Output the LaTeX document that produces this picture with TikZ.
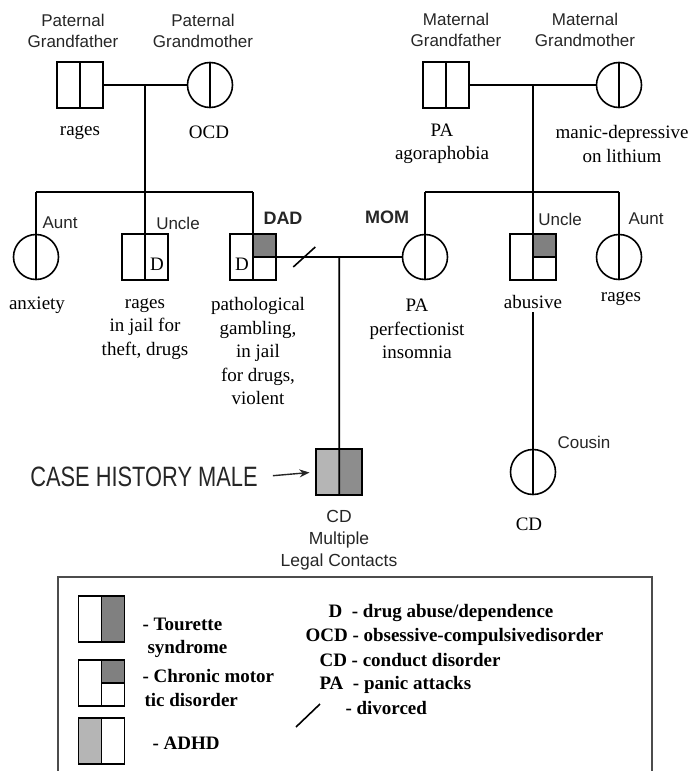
\documentclass[tikz,border=0pt]{standalone}
\usepackage{fontspec}
\setmainfont{Liberation Serif}
\setsansfont{Liberation Sans}
\usepackage{graphicx}
\usepackage{xcolor}
\usetikzlibrary{calc}
\usetikzlibrary{arrows, arrows.meta}

\definecolor{ticgray}{HTML}{808080}
\definecolor{adhdgray}{HTML}{B5B5B5}
\definecolor{inkgray}{HTML}{262626}

\tikzset{
    link/.style={line width=1.6pt, draw=black},
    male/.style={draw, line width=1.6pt, rectangle, minimum size=46pt, inner sep=0pt},
    female/.style={draw, line width=1.6pt, circle, minimum size=45pt, inner sep=0pt},
    vdiv/.style={path picture={\draw[line width=1.6pt] (path picture bounding box.north) -- (path picture bounding box.south);}},
    ticfill/.style={path picture={
        \fill[ticgray] (path picture bounding box.north) rectangle (path picture bounding box.east);
        \draw[line width=1.6pt] (path picture bounding box.center) -- (path picture bounding box.east);
        \draw[line width=1.6pt] (path picture bounding box.north) -- (path picture bounding box.south);}},
    tourfill/.style={path picture={
        \fill[ticgray] (path picture bounding box.north) rectangle (path picture bounding box.south east);
        \draw[line width=1.6pt] (path picture bounding box.north) -- (path picture bounding box.south);}},
    adhdfill/.style={path picture={
        \fill[adhdgray] (path picture bounding box.north west) rectangle (path picture bounding box.south);
        \draw[line width=1.6pt] (path picture bounding box.north) -- (path picture bounding box.south);}},
    who/.style={font=\fontsize{17}{21}\sffamily, align=center, text=inkgray},
    parent/.style={font=\fontsize{18}{21}\sffamily\bfseries, text=inkgray},
    dx/.style={font=\fontsize{19}{23.5}\selectfont, align=center},
    keytxt/.style={font=\fontsize{19}{23.5}\selectfont\bfseries, align=left, anchor=west},
}

\begin{document}
\begin{tikzpicture}[x=1pt, y=-1pt]
    \useasboundingbox (0,0) rectangle (691,771);
    \coordinate (pbar) at (0,192);
    \coordinate (mbar) at (0,192);

    % grandparents
    \node[male, vdiv] (pgf) at (80,85) {};
    \node[female, vdiv] (pgm) at (210,85) {};
    \node[male, vdiv] (mgf) at (446,85) {};
    \node[female, vdiv] (mgm) at (619,85) {};
    \node[who] (pgflbl) at (73,31) {Paternal\\Grandfather};
    \node[who] (pgmlbl) at (203,31) {Paternal\\Grandmother};
    \node[who] (mgflbl) at (456,30) {Maternal\\Grandfather};
    \node[who] (mgmlbl) at (585,30) {Maternal\\Grandmother};
    \node[dx] (pgfdx) at (80,133) {rages};
    \node[dx] (pgmdx) at (209,132) {OCD};
    \node[dx] (mgfdx) at (442,144) {PA\\agoraphobia};
    \node[dx] (mgmdx) at (622,144) {manic-depressive\\on lithium};

    % parents and their siblings
    \node[female] (aunt1) at (36,257) {};
    \node[male] (uncle1) at (145,257) {};
    \node[male, ticfill] (dad) at (253,257) {};
    \node[female] (mom) at (425,257) {};
    \node[male, ticfill] (uncle2) at (533,257) {};
    \node[female] (aunt2) at (619,257) {};
    \node[dx, inner sep=0pt] (uncle1d) at (157,264) {D};
    \node[dx, inner sep=0pt] (dadd) at (242,264) {D};
    \node[who] (aunt1lbl) at (60,223) {Aunt};
    \node[who] (uncle1lbl) at (178,223) {Uncle};
    \node[parent] (dadlbl) at (283,218) {DAD};
    \node[parent] (momlbl) at (387,217) {MOM};
    \node[who] (uncle2lbl) at (560,219) {Uncle};
    \node[who] (aunt2lbl) at (646,219) {Aunt};
    \node[dx] (aunt1dx) at (37,305) {anxiety};
    \node[dx] (uncle1dx) at (145,329) {rages\\in jail for\\theft, drugs};
    \node[dx] (daddx) at (258,351) {pathological\\gambling,\\in jail\\for drugs,\\violent};
    \node[dx] (momdx) at (417,329) {PA\\perfectionist\\insomnia};
    \node[dx] (uncle2dx) at (533,302) {abusive};
    \node[dx] (aunt2dx) at (621,299) {rages};

    % children
    \node[male, path picture={
        \fill[adhdgray] (path picture bounding box.north west) rectangle (path picture bounding box.south);
        \fill[ticgray!90!white] (path picture bounding box.north) rectangle (path picture bounding box.south east);}]
        (child) at (339.25,472) {};
    \node[female] (cousin) at (533,472) {};
    \node[font=\fontsize{17.5}{22}\sffamily, align=center, text=inkgray] (childdx) at (339,540) {CD\\Multiple\\Legal Contacts};
    \node[who] (cousinlbl) at (584,442) {Cousin};
    \node[dx] (cousindx) at (529,524) {CD};
    \node[font=\fontsize{28}{28}\sffamily, text=inkgray, inner sep=0pt] (case) at (144,477) {\scalebox{0.78}[1]{CASE HISTORY MALE}};

    % lines
    \draw[link] (pgf) -- (pgm);
    \draw[link] (mgf) -- (mgm);
    \coordinate (pdrop) at ($(pgf.east)!0.5!(pgm.west)$);
    \coordinate (mmdrop) at ($(mgf.east)!0.5!(mgm.west)$);
    \draw[link] (pdrop) -- (pdrop |- pbar);
    \draw[link] (mmdrop) -- (mmdrop |- mbar);
    \draw[link] (aunt1.north |- pbar) -- (dad.north |- pbar);
    \draw[link] (mom.north |- mbar) -- (aunt2.north |- mbar);
    \foreach \n in {aunt1,uncle1,dad}
        \draw[link] (\n.north |- pbar) -- (\n.south);
    \foreach \n in {mom,uncle2,aunt2}
        \draw[link] (\n.north |- mbar) -- (\n.south);
    \draw[link] (dad.east) -- (mom.west);
    \coordinate (mdrop) at ($(dad.east)!0.5!(mom.west)$);
    \draw[link] ($(dad.east)!0.22!(mom.west)$) +(-11,10) -- +(11,-10);
    \draw[link] (mdrop) -- (child.south);
    \draw[link] (uncle2dx.south) -- (cousin.south);
    \draw[-{Stealth[length=10pt,width=8pt]}, line width=1.4pt, inkgray, shorten <=15pt, shorten >=6pt] (case.east) -- (child.west);

    % legend
    \draw[line width=1.6pt, black!70] (58,771) -- (58,577) -- (652,577) -- (652,771);
    \node[male, tourfill] (keyts) at (101.5,619) {};
    \node[male, ticfill] (keytic) at (101.5,683) {};
    \node[male, adhdfill] (keyadhd) at (101.5,741) {};
    \node[keytxt] (tstxt) at (139,638) {- Tourette\\\hspace{5pt}syndrome};
    \node[keytxt] (tictxt) at (139,688) {- Chronic motor\\\hspace{2pt}tic disorder};
    \node[keytxt] (adhdtxt) at (149,743) {- ADHD};
    \node[keytxt] (keyd) at (325,613) {D\ \ - drug abuse/dependence};
    \node[keytxt] (keyocd) at (302,637) {OCD - obsessive-compulsivedisorder};
    \node[keytxt] (keycd) at (316,660) {CD - conduct disorder};
    \node[keytxt] (keypa) at (316,685) {PA\ \ - panic attacks};
    \node[keytxt] (keydiv) at (342,708) {- divorced};
    \draw[link] (296,727) -- (320,704);
\end{tikzpicture}
\end{document}
